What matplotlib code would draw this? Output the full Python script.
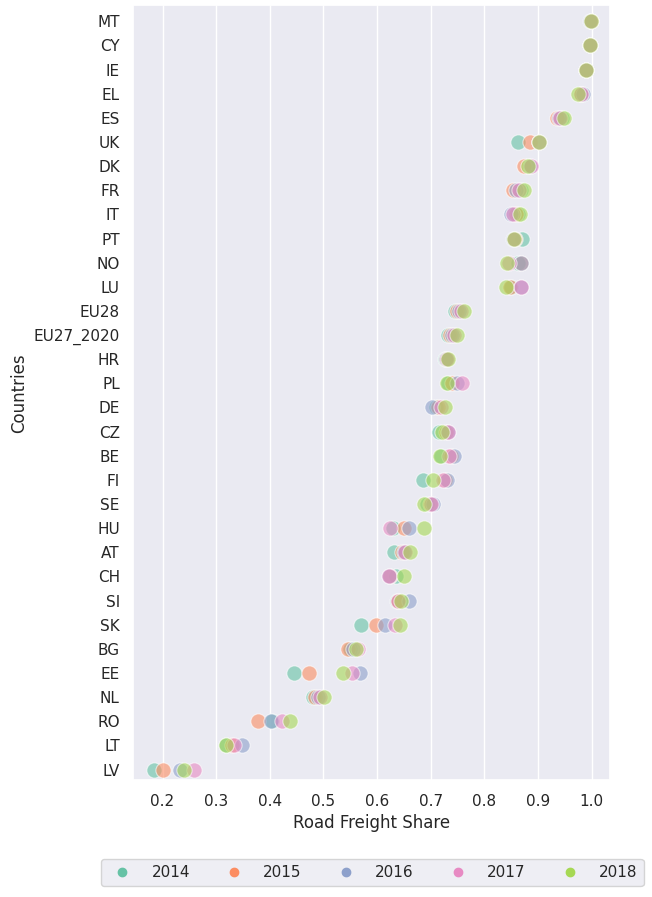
import numpy as np
import matplotlib
matplotlib.use('Agg')
import matplotlib.pyplot as plt
import seaborn as sns

sns.set_theme(style='darkgrid')
plt.rcParams['font.family'] = ['DejaVu Sans']

countries = ['MT', 'CY', 'IE', 'EL', 'ES', 'UK', 'DK', 'FR', 'IT', 'PT', 'NO', 'LU',
             'EU28', 'EU27_2020', 'HR', 'PL', 'DE', 'CZ', 'BE', 'FI', 'SE', 'HU',
             'AT', 'CH', 'SI', 'SK', 'BG', 'EE', 'NL', 'RO', 'LT', 'LV']
years = ['2014', '2015', '2016', '2017', '2018']

share_2014 = [0.999, 0.998, 0.990, 0.980, 0.945, 0.862, 0.882, 0.868, 0.862, 0.871,
              0.862, 0.850, 0.746, 0.733, 0.727, 0.733, 0.710, 0.715, 0.720, 0.686,
              0.693, 0.629, 0.631, 0.635, 0.638, 0.570, 0.550, 0.446, 0.480, 0.405,
              0.318, 0.185]
share_2015 = [0.999, 0.998, 0.990, 0.980, 0.935, 0.886, 0.875, 0.853, 0.860, 0.857,
              0.869, 0.848, 0.750, 0.737, 0.728, 0.740, 0.714, 0.728, 0.738, 0.727,
              0.698, 0.650, 0.647, 0.625, 0.640, 0.599, 0.545, 0.474, 0.485, 0.378,
              0.330, 0.200]
share_2016 = [0.998, 0.998, 0.990, 0.985, 0.940, 0.903, 0.885, 0.860, 0.849, 0.853,
              0.868, 0.868, 0.753, 0.739, 0.728, 0.750, 0.702, 0.733, 0.743, 0.730,
              0.705, 0.659, 0.650, 0.622, 0.659, 0.614, 0.555, 0.569, 0.490, 0.402,
              0.349, 0.232]
share_2017 = [0.999, 0.998, 0.989, 0.980, 0.942, 0.903, 0.887, 0.864, 0.853, 0.855,
              0.847, 0.869, 0.757, 0.744, 0.730, 0.758, 0.720, 0.732, 0.735, 0.724,
              0.700, 0.625, 0.652, 0.622, 0.640, 0.633, 0.565, 0.554, 0.493, 0.423,
              0.333, 0.258]
share_2018 = [0.999, 0.998, 0.990, 0.974, 0.948, 0.903, 0.881, 0.875, 0.866, 0.856,
              0.843, 0.840, 0.763, 0.750, 0.733, 0.730, 0.726, 0.722, 0.718, 0.705,
              0.688, 0.687, 0.662, 0.650, 0.645, 0.642, 0.560, 0.536, 0.502, 0.438,
              0.319, 0.240]
shares = [share_2014, share_2015, share_2016, share_2017, share_2018]

colors = sns.color_palette('Set2', 5)

fig, ax = plt.subplots(figsize=(6.52, 8.97), dpi=100)
fig.subplots_adjust(left=0.204, right=0.936, top=0.994, bottom=0.130)

ypos = np.arange(len(countries))
for yr, vals, c in zip(years, shares, colors):
    ax.scatter(vals, ypos, s=120, color=c, alpha=0.6, edgecolor='white',
               linewidth=0.8, label=yr, zorder=3)

ax.set_yticks(ypos)
ax.set_yticklabels(countries)
ax.set_ylim(len(countries) - 0.55, -0.66)
ax.set_xlim(0.145, 1.035)
ax.set_xticks([0.2, 0.3, 0.4, 0.5, 0.6, 0.7, 0.8, 0.9, 1.0])
ax.yaxis.grid(False)
ax.tick_params(labelsize=11)
ax.set_xlabel('Road Freight Share', fontsize=12)
ax.set_ylabel('Countries', fontsize=12)

handles = [plt.Line2D([], [], marker='o', ls='', color=c, markersize=6) for c in colors]
fig.legend(handles, years, loc='center', bbox_to_anchor=(0.571, 0.027), ncol=5,
           fontsize=11, columnspacing=1.9, handletextpad=0.9)

fig.savefig('out.png', dpi=100)
